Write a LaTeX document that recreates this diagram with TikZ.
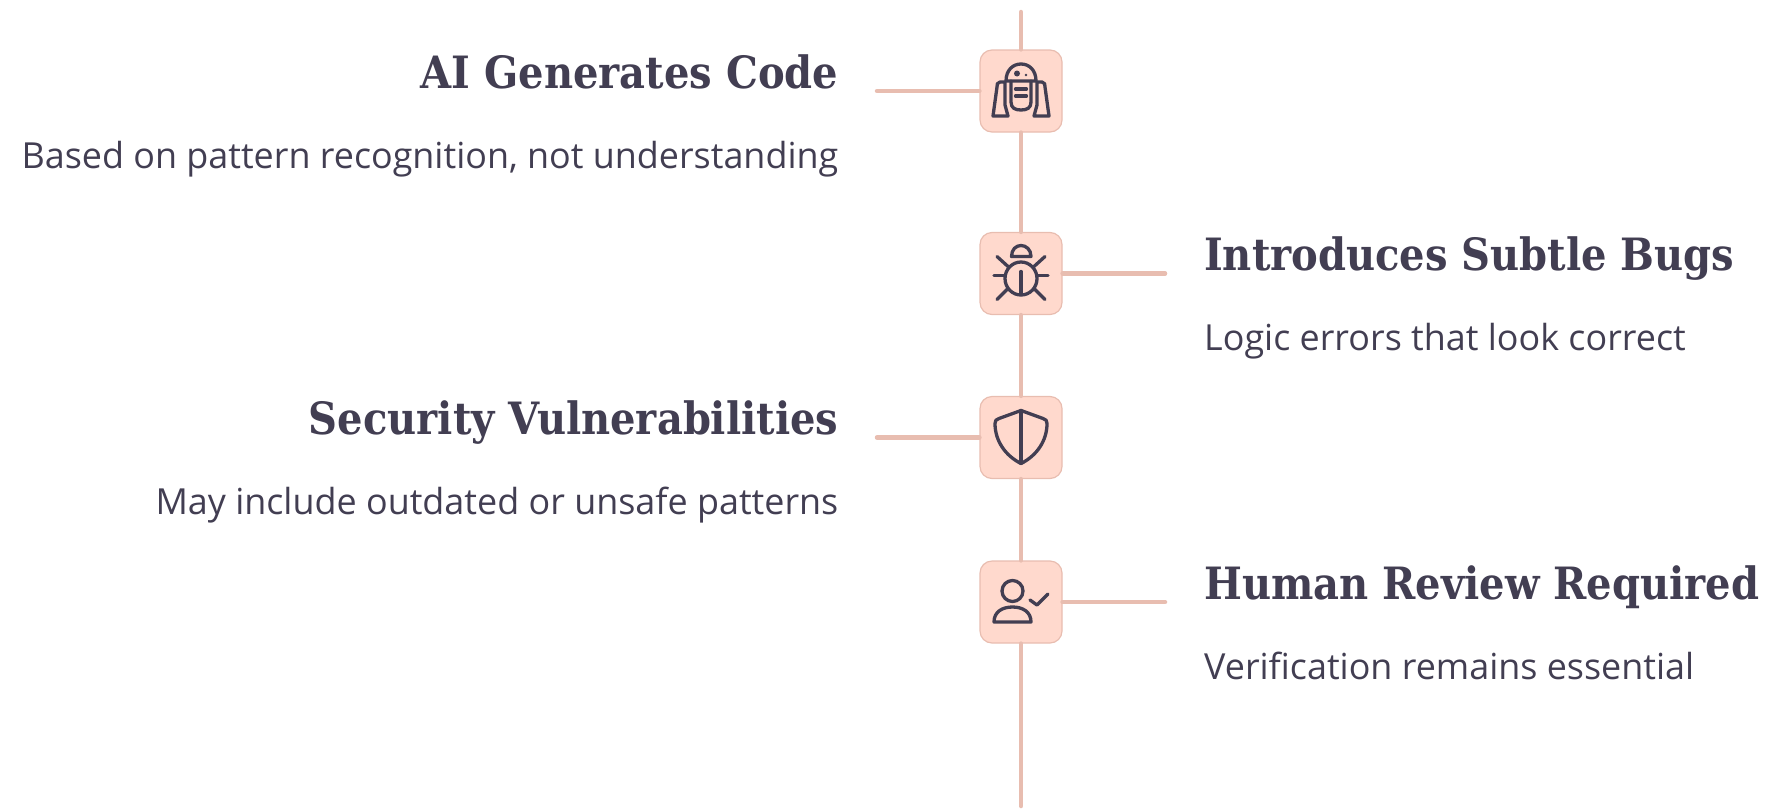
\documentclass[tikz,border=0pt]{standalone}
\usepackage{fontspec}
\setmainfont{Open Sans}
\newfontfamily\headfont{DejaVu Serif Condensed}
\definecolor{linkcol}{HTML}{E8BDB0}
\definecolor{boxcol}{HTML}{FFD9CD}
\definecolor{inkcol}{HTML}{423E52}
\tikzset{
  link/.style={draw=linkcol,line width=4.5pt,line cap=round},
  iconbox/.style={draw=linkcol,fill=boxcol,line width=1.2pt,rounded corners=12pt,minimum size=82pt,inner sep=0pt},
  icon/.style={draw=inkcol,line width=3.3pt,line cap=round,line join=round},
  head/.style={text=inkcol,inner sep=0pt,font=\headfont\bfseries\fontsize{44.5}{54}\selectfont},
  note/.style={text=inkcol,inner sep=0pt,font=\fontsize{35.9}{44}\selectfont}
}
\begin{document}
\begin{tikzpicture}[x=1pt,y=-1pt]
\useasboundingbox (0,0) rectangle (1771,809);
\node [iconbox] (robot) at (1021,91) {};
\node [iconbox] (bug) at (1021,273.5) {};
\node [iconbox] (shield) at (1021,437.5) {};
\node [iconbox] (person) at (1021,602) {};
\coordinate (top) at (1021,12);
\coordinate (bottom) at (1021,806);
\coordinate (robotend) at (877,91);
\coordinate (bugend) at (1165,273.5);
\coordinate (shieldend) at (877,437.5);
\coordinate (personend) at (1165,602);
% spine
\draw [link] (top) -- (robot.north);
\draw [link] (robot.south) -- (bug.north);
\draw [link] (bug.south) -- (shield.north);
\draw [link] (shield.south) -- (person.north);
\draw [link] (person.south) -- (bottom);
% stubs
\draw [link] (robotend) -- (robot.west);
\draw [link] (bug.east) -- (bugend);
\draw [link] (shieldend) -- (shield.west);
\draw [link] (person.east) -- (personend);
% labels
\node [head,anchor=base east] (robothead) at (838.5,88) {AI Generates Code};
\node [note,anchor=base east] (robotnote) at (838.5,168) {Based on pattern recognition, not understanding};
\node [head,anchor=base west] (bughead) at (1204,270.5) {Introduces Subtle Bugs};
\node [note,anchor=base west] (bugnote) at (1204,350.5) {Logic errors that look correct};
\node [head,anchor=base east] (shieldhead) at (838.5,434.5) {Security Vulnerabilities};
\node [note,anchor=base east] (shieldnote) at (838.5,514.5) {May include outdated or unsafe patterns};
\node [head,anchor=base west] (personhead) at (1204,599) {Human Review Required};
\node [note,anchor=base west] (personnote) at (1204,679) {Verification remains essential};
% robot icon
\begin{scope}[shift={(robot.center)}]
\draw [icon] (-15,-10) .. controls (-15,-21) and (-8,-27) .. (0,-27) .. controls (8,-27) and (15,-21) .. (15,-10) -- cycle;
\draw [icon] (-10,-10) -- (-10,11) .. controls (-10,17) and (-6,19) .. (0,19) .. controls (6,19) and (10,17) .. (10,11) -- (10,-10);
\draw [icon] (-16,-9) -- (-21,-9) .. controls (-24,-9) and (-24,-6) .. (-24,-4) -- (-28,25) -- (-13,25) -- (-16,14) -- cycle;
\draw [icon] (16,-9) -- (21,-9) .. controls (24,-9) and (24,-6) .. (24,-4) -- (28,25) -- (13,25) -- (16,14) -- cycle;
\draw [icon] (-5.5,-2) -- (5.5,-2);
\draw [icon] (-5.5,5) -- (5.5,5);
\fill [inkcol] (-4,-17.5) circle (3);
\fill [inkcol] (5,-16) circle (1.3);
\end{scope}
% bug icon
\begin{scope}[shift={(bug.center)}]
\draw [icon] (-9.5,-17) .. controls (-9.5,-24) and (-5,-28) .. (0,-28) .. controls (5,-28) and (10,-24) .. (10,-17) -- cycle;
\draw [icon] (0,5) ellipse (16 and 16.5);
\draw [icon] (0,-2) -- (0,21);
\draw [icon] (-24,-17) -- (-13,-7);
\draw [icon] (-27,2) -- (-16,2);
\draw [icon] (-24,26) -- (-13,15);
\draw [icon] (24,-17) -- (13,-7);
\draw [icon] (27,2) -- (16,2);
\draw [icon] (24,26) -- (13,15);
\end{scope}
% shield icon
\begin{scope}[shift={(shield.center)}]
\draw [icon] (0,-27) -- (22,-19) .. controls (25,-18) and (26,-17) .. (26,-14) .. controls (26,3) and (16,18) .. (0,26) .. controls (-16,18) and (-26,3) .. (-26,-14) .. controls (-26,-17) and (-25,-18) .. (-22,-19) -- cycle;
\draw [icon] (0,-27) -- (0,26);
\end{scope}
% person icon
\begin{scope}[shift={(person.center)}]
\draw [icon] (-8.5,-11) circle (10.5);
\draw [icon] (-27,20) .. controls (-27,10) and (-19,5) .. (-8.5,5) .. controls (2,5) and (10,10) .. (10,20) -- cycle;
\draw [icon] (9,-2) -- (16,3) -- (27,-8);
\end{scope}
\end{tikzpicture}
\end{document}
